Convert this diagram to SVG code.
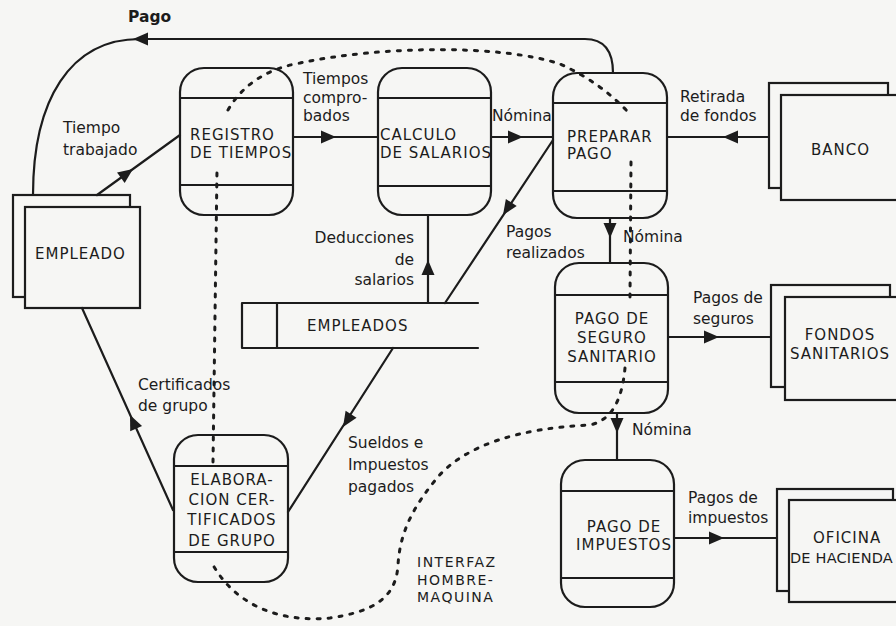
<svg xmlns="http://www.w3.org/2000/svg" xmlns:xlink="http://www.w3.org/1999/xlink" width="896" height="626" viewBox="0 0 896 626">
<style>
.ln{fill:none;stroke:#1c1c1c;stroke-width:2.2;stroke-linecap:round;stroke-linejoin:round}
.ent{fill:#f6f6f4;stroke:#1c1c1c;stroke-width:2.2}
.bd{fill:none;stroke:#1c1c1c;stroke-width:3;stroke-dasharray:3 8;stroke-linecap:round}
.cap{font-family:"DejaVu Sans",sans-serif;font-size:15px;letter-spacing:1px;fill:#1c1c1c}
.lab{font-family:"DejaVu Sans",sans-serif;font-size:15.5px;fill:#1c1c1c}
.mid{text-anchor:middle}
.end{text-anchor:end}
</style>
<defs>
<path id="ah" d="M0 0 L-15 -6.5 L-15 6.5 Z" fill="#1c1c1c"/>
</defs>
<rect x="0" y="0" width="896" height="626" fill="#f6f6f4"/>

<g id="registro">
<rect class="ln" x="180" y="68" width="113" height="147" rx="24" ry="24"/>
<path class="ln" d="M180 98 H293 M180 185 H293"/>
<text class="cap" x="190" y="140">REGISTRO</text>
<text class="cap" x="190" y="158">DE TIEMPOS</text>
</g>

<g id="calculo">
<rect class="ln" x="378" y="68" width="113" height="147" rx="24" ry="24"/>
<path class="ln" d="M378 98 H491 M378 186 H491"/>
<text class="cap" x="380" y="140">CALCULO</text>
<text class="cap" x="380" y="158">DE SALARIOS</text>
</g>

<g id="preparar">
<rect class="ln" x="553" y="73" width="114" height="145" rx="24" ry="24"/>
<path class="ln" d="M553 103 H667 M553 191 H667"/>
<text class="cap" x="567" y="142">PREPARAR</text>
<text class="cap" x="567" y="159">PAGO</text>
</g>

<g id="seguro">
<rect class="ln" x="555" y="263" width="113" height="150" rx="24" ry="24"/>
<path class="ln" d="M555 295 H668 M555 382 H668"/>
<text class="cap mid" x="612" y="324">PAGO DE</text>
<text class="cap mid" x="612" y="343">SEGURO</text>
<text class="cap mid" x="612" y="362">SANITARIO</text>
</g>

<g id="impuestos">
<rect class="ln" x="561" y="460" width="113" height="147" rx="24" ry="24"/>
<path class="ln" d="M561 491 H674 M561 578 H674"/>
<text class="cap mid" x="624" y="532">PAGO DE</text>
<text class="cap mid" x="624" y="550">IMPUESTOS</text>
</g>

<g id="elaboracion">
<rect class="ln" x="174" y="435" width="114" height="147" rx="24" ry="24"/>
<path class="ln" d="M174 466 H288 M174 552 H288"/>
<text class="cap mid" x="232" y="485">ELABORA-</text>
<text class="cap mid" x="232" y="505">CION  CER-</text>
<text class="cap mid" x="232" y="525">TIFICADOS</text>
<text class="cap mid" x="232" y="546">DE GRUPO</text>
</g>

<g id="empleado">
<rect class="ent" x="13" y="195" width="117" height="102"/>
<rect class="ent" x="25" y="207" width="115" height="101"/>
<text class="cap" x="35" y="259">EMPLEADO</text>
</g>

<g id="banco">
<rect class="ent" x="769" y="83" width="119" height="105"/>
<rect class="ent" x="781" y="95" width="125" height="105"/>
<text class="cap" x="811" y="155">BANCO</text>
</g>

<g id="fondos">
<rect class="ent" x="771" y="285" width="119" height="102"/>
<rect class="ent" x="785" y="297" width="125" height="103"/>
<text class="cap mid" x="840" y="340">FONDOS</text>
<text class="cap mid" x="840" y="359">SANITARIOS</text>
</g>

<g id="hacienda">
<rect class="ent" x="777" y="489" width="116" height="102"/>
<rect class="ent" x="789" y="500" width="125" height="102"/>
<text class="cap" x="813" y="543">OFICINA</text>
<text class="cap" x="790" y="563" style="font-size:14.5px;letter-spacing:0.2px">DE HACIENDA</text>
</g>

<g id="empleados-store">
<path class="ln" d="M478 303 H242 V348 H478 M277 303 V348"/>
<text class="cap" x="307" y="331">EMPLEADOS</text>
</g>

<g id="connectors">
<path class="ln" d="M613 73 C613 52 605 39 585 39 L140 39 C70 39 33 100 33 195"/>
<use xlink:href="#ah" transform="translate(133 39) rotate(180)"/>
<path class="ln" d="M97 195 L180 135"/>
<use xlink:href="#ah" transform="translate(133 169) rotate(-35.9)"/>
<path class="ln" d="M293 137 H378"/>
<use xlink:href="#ah" transform="translate(336 137)"/>
<path class="ln" d="M491 137 H553"/>
<use xlink:href="#ah" transform="translate(523 137)"/>
<path class="ln" d="M769 137 H667"/>
<use xlink:href="#ah" transform="translate(723 137) rotate(180)"/>
<path class="ln" d="M553 140 L445 303"/>
<use xlink:href="#ah" transform="translate(503 215) rotate(123.5)"/>
<path class="ln" d="M428 303 V215"/>
<use xlink:href="#ah" transform="translate(428 260) rotate(-90)"/>
<path class="ln" d="M610 218 V263"/>
<use xlink:href="#ah" transform="translate(610 238) rotate(90)"/>
<path class="ln" d="M668 337 H771"/>
<use xlink:href="#ah" transform="translate(719 337)"/>
<path class="ln" d="M617 413 V460"/>
<use xlink:href="#ah" transform="translate(617 433) rotate(90)"/>
<path class="ln" d="M674 538 H777"/>
<use xlink:href="#ah" transform="translate(724 538)"/>
<path class="ln" d="M393 348 L288 512"/>
<use xlink:href="#ah" transform="translate(343 427) rotate(122.6)"/>
<path class="ln" d="M173 510 L82 308"/>
<use xlink:href="#ah" transform="translate(130 415) rotate(-114.2)"/>

<path class="bd" d="M213 462 L217 170"/>
<path class="bd" d="M228 110 Q250 72 300 63 C380 46 500 44 560 64 Q600 82 628 112"/>
<path class="bd" d="M631 162 L630 297"/>
<path class="bd" d="M625 368 C622 400 612 420 590 425 C520 428 465 445 437 478 C415 505 400 530 398 565 C396 600 370 612 330 618 C290 622 240 612 213 565"/>
</g>

<g id="labels">
<text class="lab" x="128" y="22" font-weight="bold">Pago</text>
<text class="lab" x="63" y="133">Tiempo</text>
<text class="lab" x="63" y="155">trabajado</text>
<text class="lab" x="303" y="84">Tiempos</text>
<text class="lab" x="303" y="103">compro-</text>
<text class="lab" x="303" y="121">bados</text>
<text class="lab" x="492" y="121">Nómina</text>
<text class="lab" x="680" y="102">Retirada</text>
<text class="lab" x="680" y="121">de fondos</text>
<text class="lab end" x="414" y="243">Deducciones</text>
<text class="lab end" x="414" y="265">de</text>
<text class="lab end" x="414" y="285">salarios</text>
<text class="lab" x="506" y="237">Pagos</text>
<text class="lab" x="506" y="258">realizados</text>
<text class="lab" x="623" y="242">Nómina</text>
<text class="lab" x="693" y="303">Pagos de</text>
<text class="lab" x="693" y="324">seguros</text>
<text class="lab" x="138" y="390">Certificados</text>
<text class="lab" x="138" y="411">de grupo</text>
<text class="lab" x="348" y="448">Sueldos e</text>
<text class="lab" x="348" y="470">Impuestos</text>
<text class="lab" x="348" y="492">pagados</text>
<text class="lab" x="632" y="435">Nómina</text>
<text class="lab" x="688" y="503">Pagos de</text>
<text class="lab" x="688" y="523">impuestos</text>
<text class="cap" x="417" y="567" style="font-size:14px;letter-spacing:1.5px">INTERFAZ</text>
<text class="cap" x="417" y="585" style="font-size:14px;letter-spacing:1.5px">HOMBRE-</text>
<text class="cap" x="417" y="602" style="font-size:14px;letter-spacing:1.5px">MAQUINA</text>
</g>
</svg>
